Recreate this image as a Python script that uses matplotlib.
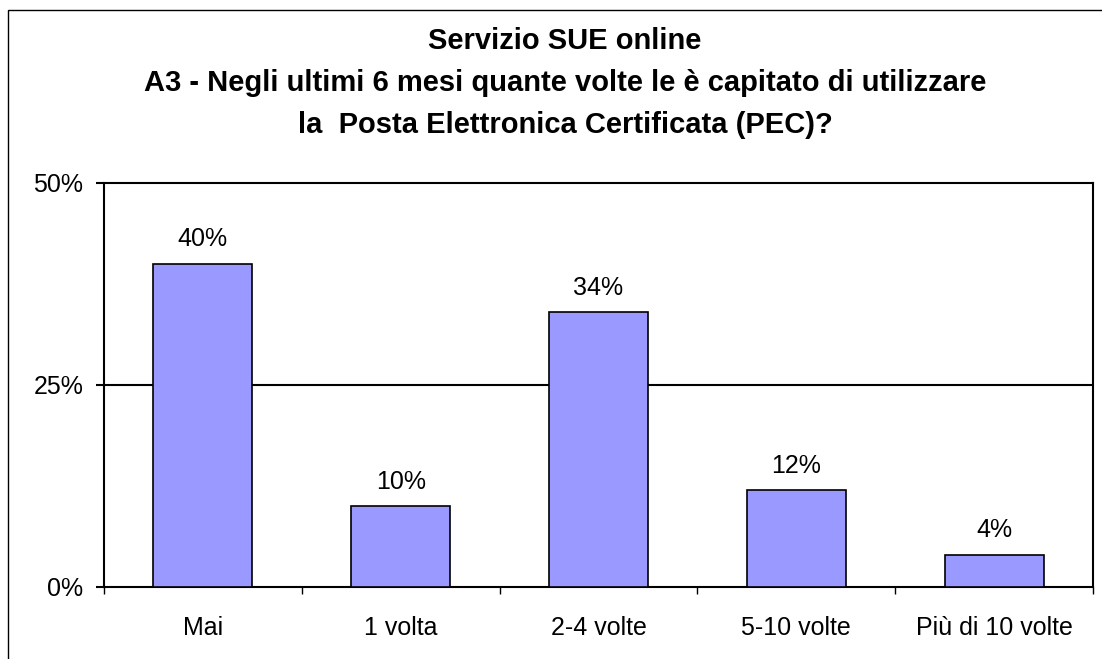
import matplotlib
matplotlib.use("Agg")
import matplotlib.pyplot as plt
from matplotlib.patches import Rectangle

categories = ["Mai", "1 volta", "2-4 volte", "5-10 volte", "Più di 10 volte"]
values = [40, 10, 34, 12, 4]
yticks = [0, 25, 50]
ytick_labels = ["0%", "25%", "50%"]
title = ("Servizio SUE online\n"
         "A3 - Negli ultimi 6 mesi quante volte le è capitato di utilizzare\n"
         "la  Posta Elettronica Certificata (PEC)?")

plt.rcParams['font.family'] = ['Liberation Sans', 'DejaVu Sans']

W, H = 1102, 659
fig = plt.figure(figsize=(W / 100, H / 100), dpi=100)
fig.patch.set_facecolor("white")

# figure border
fig.add_artist(Rectangle((8 / W, -0.1), 1.2, 1 - 10 / H + 0.1, transform=fig.transFigure,
                         fill=False, edgecolor="black", linewidth=1.0))

ax = fig.add_axes([104 / W, (H - 587) / H, (1093 - 104) / W, (587 - 183) / H])
x = list(range(len(categories)))
ax.bar(x, values, width=0.5, color="#9999FF", edgecolor="black", linewidth=1.2, zorder=3)

ax.set_xlim(-0.5, len(categories) - 0.5)
ax.set_ylim(0, 50)
ax.set_yticks(yticks)
ax.set_yticklabels(ytick_labels, fontsize=18)
ax.set_xticks(x)
ax.set_xticklabels(categories, fontsize=18)
ax.set_xticks([i - 0.5 for i in range(len(categories) + 1)], minor=True)
ax.tick_params(axis='x', which='major', length=0, pad=21)
ax.tick_params(axis='x', which='minor', length=5, width=1, direction='out')
ax.tick_params(axis='y', length=6, width=1.5, direction='out', pad=9)

ax.axhline(25, color="black", linewidth=1.5, zorder=2)
for s in ax.spines.values():
    s.set_linewidth(1.5)
    s.set_color("black")

for xi, v in zip(x, values):
    ax.annotate(f"{v}%", (xi, v), xytext=(0, 9), textcoords="offset points",
                ha="center", va="bottom", fontsize=18)

fig.text(565 / W, 1 - 83 / H, title, ha="center", va="center",
         fontsize=21, fontweight="bold", linespacing=1.65)

fig.savefig("out.png", dpi=100)
